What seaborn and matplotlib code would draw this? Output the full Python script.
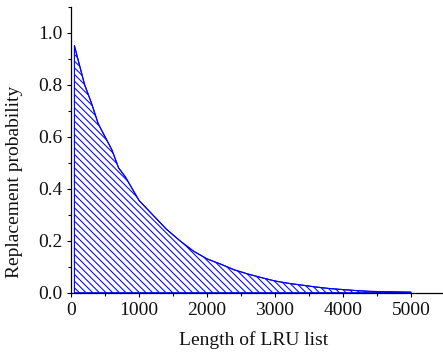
import matplotlib
matplotlib.use("Agg")
import matplotlib.pyplot as plt
import seaborn as sns
import pandas as pd

# LRU list length vs. probability of replacement
list_length = [50, 100, 200, 300, 400, 500, 600, 700, 800, 900, 1000,
               1200, 1400, 1600, 1800, 2000, 2200, 2400, 2600, 2800, 3000,
               3200, 3400, 3600, 3800, 4000, 4200, 4400, 4600, 4800, 5000]
replace_prob = [0.95, 0.90, 0.80, 0.73, 0.65, 0.60, 0.55, 0.48, 0.445, 0.40, 0.355,
                0.30, 0.245, 0.20, 0.16, 0.13, 0.11, 0.088, 0.072, 0.058, 0.045,
                0.036, 0.029, 0.022, 0.016, 0.012, 0.008, 0.005, 0.004, 0.003, 0.002]

x_ticks = [0, 1000, 2000, 3000, 4000, 5000]
y_ticks = [0.0, 0.2, 0.4, 0.6, 0.8, 1.0]

sns.set_style("ticks")
plt.rcParams["font.family"] = ["Liberation Serif", "DejaVu Serif"]
plt.rcParams["hatch.color"] = "#4646ff"
plt.rcParams["hatch.linewidth"] = 0.75

df = pd.DataFrame({"length": list_length, "prob": replace_prob})

fig = plt.figure(figsize=(4.43, 3.55), dpi=100)
ax = fig.add_axes([71 / 443, 62.3 / 355, 374 / 443, 286 / 355])

# back-slash hatching under the curve
hatch_pattern = chr(92) * 5
ax.fill_between(df["length"], 0, df["prob"], facecolor="none",
                edgecolor="#0000ff", hatch=hatch_pattern, linewidth=0.8)
sns.lineplot(data=df, x="length", y="prob", ax=ax, color="#0000ff",
             linewidth=0.8)

ax.set_xlim(0, 5500)
ax.set_ylim(0, 1.1)
ax.set_xticks(x_ticks)
ax.set_xticklabels([str(t) for t in x_ticks])
ax.set_yticks(y_ticks)
ax.set_yticklabels([f"{t:.1f}" for t in y_ticks])
ax.set_xticks([500, 1500, 2500, 3500, 4500], minor=True)
ax.set_yticks([0.1, 0.3, 0.5, 0.7, 0.9, 1.1], minor=True)

ax.tick_params(axis="both", which="major", direction="out", length=3,
               width=0.8, labelsize=14, color="black", labelcolor="#111111")
ax.tick_params(axis="x", which="major", pad=4)
ax.tick_params(axis="y", which="major", pad=3)
ax.tick_params(axis="both", which="minor", direction="out", length=2.5,
               width=0.8, color="black")

for side in ("top", "right"):
    ax.spines[side].set_visible(False)
for side in ("left", "bottom"):
    ax.spines[side].set_linewidth(0.9)
    ax.spines[side].set_color("black")

ax.set_xlabel("Length of LRU list", fontsize=14, color="#111111")
ax.set_ylabel("Replacement probability", fontsize=14, color="#111111")
ax.xaxis.set_label_coords(0.489, -0.134)
ax.yaxis.set_label_coords(-0.128, 0.387)

fig.savefig("out.png", dpi=100)
